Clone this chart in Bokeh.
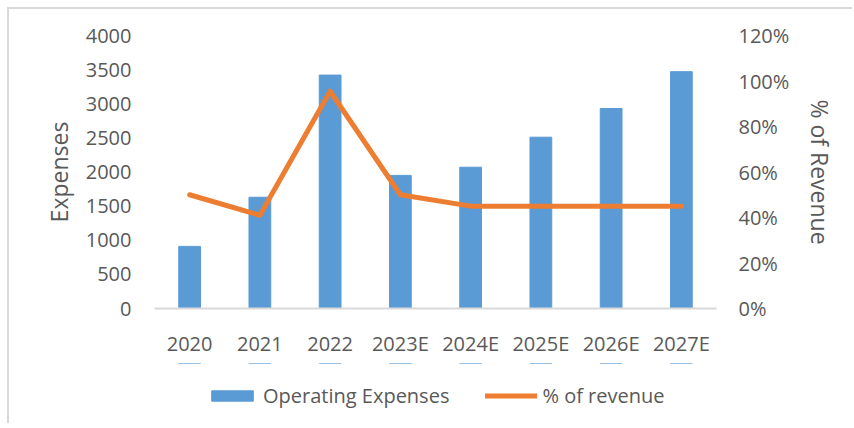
from bokeh.plotting import figure
from bokeh.layouts import column
from bokeh.models import (ColumnDataSource, Range1d, LinearAxis, FactorRange,
                          SingleIntervalTicker, FixedTicker, NumeralTickFormatter, Legend, LegendItem)
from bokeh.embed import file_html
from bokeh.resources import INLINE

years = ["2020", "2021", "2022", "2023E", "2024E", "2025E", "2026E", "2027E"]
operating_expenses = [910, 1630, 3420, 1950, 2070, 2510, 2930, 3470]
pct_of_revenue = [0.50, 0.41, 0.955, 0.50, 0.45, 0.45, 0.45, 0.45]
pct_ticks = [0.0, 0.2, 0.4, 0.6, 0.8, 1.0, 1.2]
legend_labels = ["Operating Expenses", "% of revenue"]

FONT = "Open Sans"
TXT = "#595959"
BLUE = "#5B9BD5"
ORANGE = "#ED7D31"
GRID = "#D9D9D9"

src = ColumnDataSource(dict(year=years, exp=operating_expenses, pct=pct_of_revenue))

p = figure(x_range=FactorRange(*years, range_padding=0.0), y_range=Range1d(0, 4000),
           frame_width=562, frame_height=273,
           output_backend="svg", toolbar_location=None,
           min_border_left=145, min_border_right=136, min_border_top=26, min_border_bottom=55)
p.extra_y_ranges = {"pct": Range1d(0, 1.2)}

bars = p.vbar(x="year", top="exp", width=0.31, source=src, color=BLUE)
line = p.line(x="year", y="pct", source=src, y_range_name="pct", color=ORANGE,
              line_width=5, line_join="round", line_cap="round")

p.outline_line_color = None
p.xgrid.grid_line_color = None
p.ygrid.grid_line_color = None
p.background_fill_color = "white"
p.border_fill_color = "white"

def style_axis(ax):
    ax.major_label_text_font = FONT
    ax.major_label_text_font_size = "20px"
    ax.major_label_text_color = TXT
    ax.axis_label_text_font = FONT
    ax.axis_label_text_font_size = "23px"
    ax.axis_label_text_font_style = "normal"
    ax.axis_label_text_color = TXT
    ax.major_tick_line_color = None
    ax.minor_tick_line_color = None

yl = p.yaxis[0]
style_axis(yl)
yl.ticker = SingleIntervalTicker(interval=500)
yl.axis_line_color = None
yl.axis_label = "Expenses"
yl.major_label_standoff = 17
yl.axis_label_standoff = 8

yr = LinearAxis(y_range_name="pct", axis_label="% of Revenue")
style_axis(yr)
yr.ticker = FixedTicker(ticks=pct_ticks)
yr.formatter = NumeralTickFormatter(format="0%")
yr.axis_line_color = None
yr.major_label_standoff = 16
yr.axis_label_standoff = 12
p.add_layout(yr, "right")

xa = p.xaxis[0]
style_axis(xa)
xa.axis_line_color = GRID
xa.axis_line_width = 2
xa.major_label_standoff = 15

# separate strip holding the legend (keeps it from being clipped by the plot frame);
# its glyphs use the same data but lie outside the strip's y range, so only the legend shows
lf = figure(width=843, height=60, x_range=p.x_range, y_range=Range1d(-2, -1),
            x_axis_type=None, y_axis_type=None, output_backend="svg", toolbar_location=None,
            min_border=0)
lf.outline_line_color = None
lf.xgrid.grid_line_color = None
lf.ygrid.grid_line_color = None
lf.border_fill_color = "white"
lf.background_fill_color = "white"
lb = lf.vbar(x="year", top="exp", width=0.31, source=src, color=BLUE)
ll = lf.line(x="year", y="pct", source=src, color=ORANGE, line_width=5, line_cap="round")

legend = Legend(items=[LegendItem(label=legend_labels[0], renderers=[lb]),
                       LegendItem(label=legend_labels[1], renderers=[ll])],
                orientation="horizontal", location=(52, 14),
                glyph_width=52, glyph_height=13, label_standoff=5, spacing=36,
                padding=0, margin=0, border_line_color=None, background_fill_alpha=0,
                label_text_font=FONT, label_text_font_size="20px", label_text_color=TXT)
lf.add_layout(legend, "center")

layout = column(p, lf, spacing=0)
layout.styles = {"border-top": "2px solid #D9D9D9", "border-left": "2px solid #D9D9D9",
                 "margin-left": "7px", "margin-top": "7px"}

open("out.html", "w").write(file_html(layout, INLINE))
